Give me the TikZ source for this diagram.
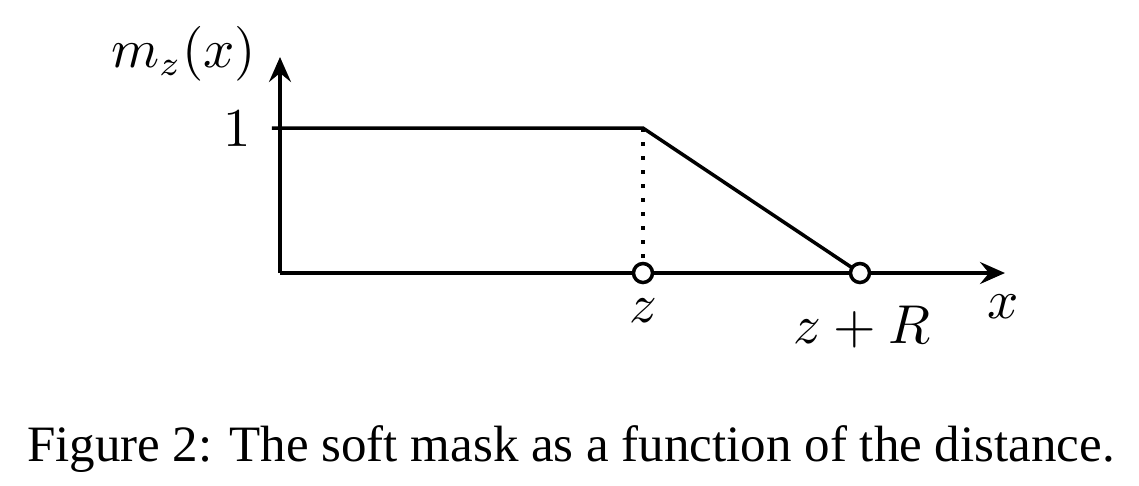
\documentclass[tikz,border=0pt]{standalone}
\usepackage{fontspec}
\newfontfamily\capfont{Liberation Serif}
\usetikzlibrary{arrows.meta}
\tikzset{
  axisline/.style={line width=0.7pt, -{Stealth[length=5pt,width=4.4pt,inset=1.8pt]}},
  plotline/.style={line width=0.7pt, line join=miter},
  dotline/.style={line width=0.7pt, dash pattern=on 0.7pt off 2.1pt},
  hollow/.style={circle, draw, line width=0.7pt, fill=white, minimum size=3.8pt, inner sep=0pt},
  mlabel/.style={inner sep=0pt, anchor=base, font=\fontsize{10.6}{12}\selectfont},
  caplabel/.style={inner sep=0pt, anchor=base west, font=\capfont\fontsize{10.2}{12}\selectfont}
}
\begin{document}
\begin{tikzpicture}[x=0.2pt,y=-0.2pt]
\useasboundingbox (0,0) rectangle (1139,485);
\coordinate (O) at (280,273);
\coordinate (ytop) at (280,57);
\coordinate (xend) at (1005,273);
\coordinate (tick) at (272,128);
\coordinate (one) at (280,128);
\coordinate (knee) at (643,128);
\coordinate (pz) at (643,273);
\coordinate (pzR) at (860,273);
\draw[axisline] (O) -- (ytop);
\draw[axisline] (O) -- (xend);
\draw[plotline] (tick) -- (one) -- (knee) -- (pzR);
\draw[dotline] (knee) -- (pz);
\node[hollow] (cz) at (pz) {};
\node[hollow] (czR) at (pzR) {};
\node[mlabel] (ylab) at (183.5,67) {$m_z(x)$};
\node[mlabel] (onelab) at (237,146) {$1$};
\node[mlabel] (zlab) at (643,322) {$z$};
\node[mlabel] (zRlab) at (862,343) {$z+R$};
\node[mlabel] (xlab) at (1003,318) {$x$};
\node[caplabel] (cap) at (26,461) {Figure 2: The soft mask as a function of the distance.};
\end{tikzpicture}
\end{document}
